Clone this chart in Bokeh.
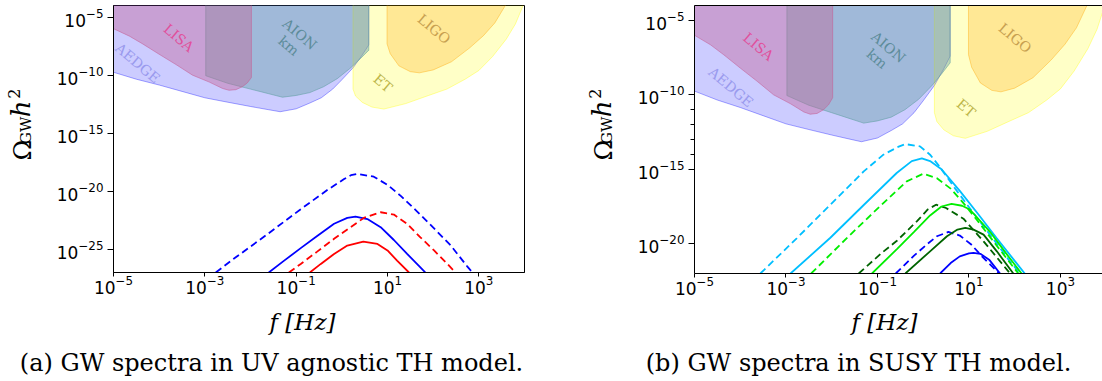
import math
from bokeh.plotting import figure
from bokeh.layouts import row, column
from bokeh.models import FixedTicker, LinearAxis, Range1d
from bokeh.core.properties import value
from bokeh.embed import file_html
from bokeh.resources import INLINE

# ---------------- data: log10(f / Hz) and log10(Omega_GW h^2) ----------------
# sensitivity regions (lower boundary curves; regions are filled up to the top)
LISA_LOGF = [-5.0, -4.65, -4.36, -4.0, -3.63, -3.27, -2.9, -2.61, -2.47, -2.32, -2.18, -2.07, -1.98]
LISA_LOGO = [-6.0, -6.64, -7.31, -8.2, -9.09, -10.0, -10.6, -11.15, -11.3, -11.25, -11.0, -10.67, -10.2]

AEDGE_LOGF = [-5.0, -4.5, -4.0, -3.5, -3.0, -2.5, -2.0, -1.6, -1.35, -1.0, -0.7, -0.45, -0.2, 0.0, 0.25, 0.45, 0.59]
AEDGE_LOGO = [-9.75, -10.35, -10.85, -11.4, -11.95, -12.33, -12.7, -12.98, -13.15, -12.9, -12.4, -11.95, -11.2, -10.4, -9.35, -8.25, -7.4]

AION_LOGF = [-2.98, -2.5, -2.0, -1.6, -1.3, -1.0, -0.7, -0.4, -0.1, 0.2, 0.4, 0.59]
AION_LOGO = [-10.05, -10.7, -11.2, -11.6, -11.9, -11.75, -11.5, -11.0, -10.3, -9.35, -8.6, -7.85]

ET_LOGF = [0.245, 0.30, 0.45, 0.66, 0.92, 1.4, 1.9, 2.3, 2.7, 3.0, 3.3, 3.6, 3.8, 3.97]
ET_LOGO = [-11.2, -11.8, -12.35, -12.75, -12.92, -12.45, -11.75, -11.2, -10.35, -9.6, -8.4, -6.9, -5.6, -4.0]

LIGO_LOGF = [0.99, 1.06, 1.25, 1.5, 1.7, 2.0, 2.4, 2.8, 3.1, 3.35, 3.58]
LIGO_LOGO = [-7.3, -8.15, -9.2, -9.7, -9.8, -9.55, -8.85, -7.65, -6.6, -5.5, -4.0]

# (a) UV agnostic TH model spectra
A_BLUE_DASH_LOGF = [-2.76, -2.36, -1.63, -0.9, -0.32, 0.05, 0.2, 0.34, 0.70, 1.0, 1.29, 1.65, 2.02, 2.38, 2.75, 2.86]
A_BLUE_DASH_LOGO = [-27.0, -25.8, -23.7, -21.55, -19.9, -18.95, -18.62, -18.5, -18.75, -19.45, -20.4, -21.75, -23.2, -24.65, -26.5, -27.0]
A_BLUE_LOGF = [-1.6, -1.27, -0.9, -0.54, -0.17, 0.12, 0.30, 0.56, 0.85, 1.14, 1.43, 1.72, 1.83]
A_BLUE_LOGO = [-27.0, -26.0, -24.9, -23.85, -22.8, -22.3, -22.18, -22.4, -23.1, -24.2, -25.4, -26.55, -27.0]
A_RED_DASH_LOGF = [-1.16, -0.9, -0.54, -0.17, 0.19, 0.48, 0.85, 1.14, 1.43, 1.72, 2.02, 2.31, 2.49]
A_RED_DASH_LOGO = [-27.0, -26.26, -25.2, -24.1, -23.1, -22.3, -21.81, -22.01, -22.81, -23.97, -25.1, -26.26, -27.0]
A_RED_LOGF = [-0.70, -0.46, -0.17, 0.12, 0.47, 0.78, 1.0, 1.21, 1.47]
A_RED_LOGO = [-27.0, -26.26, -25.4, -24.68, -24.34, -24.54, -25.1, -25.97, -27.0]

# (b) SUSY TH model spectra
B_SKY_DASH_LOGF = [-3.56, -2.76, -2.03, -1.30, -0.87, -0.55, -0.39, -0.07, 0.15, 0.34, 0.7, 1.1, 1.5, 1.9, 2.12]
B_SKY_DASH_LOGO = [-22.0, -19.62, -17.38, -15.14, -14.02, -13.5, -13.31, -13.46, -14.02, -14.75, -16.3, -17.95, -19.55, -21.2, -22.0]
B_SKY_LOGF = [-2.90, -2.03, -1.30, -0.58, -0.25, -0.03, 0.15, 0.4, 0.8, 1.2, 1.6, 2.0, 2.22]
B_SKY_LOGO = [-22.0, -19.6, -17.4, -15.25, -14.45, -14.27, -14.45, -15.0, -16.45, -18.0, -19.6, -21.15, -22.0]
B_LIME_DASH_LOGF = [-2.45, -1.67, -0.94, -0.36, 0.0, 0.30, 0.6, 0.88, 1.2, 1.6, 2.08]
B_LIME_DASH_LOGO = [-22.0, -19.62, -17.47, -15.81, -15.3, -15.6, -16.3, -17.27, -18.5, -20.1, -22.0]
B_DKGREEN_DASH_LOGF = [-1.41, -0.9, -0.575, -0.14, 0.1, 0.28, 0.5, 0.88, 1.32, 1.9]
B_DKGREEN_DASH_LOGO = [-22.0, -20.6, -19.8, -18.5, -17.7, -17.38, -17.6, -18.32, -19.84, -22.0]
B_LIME_LOGF = [-1.12, -0.575, -0.2, 0.15, 0.4, 0.62, 0.85, 1.02, 1.46, 1.8, 2.15]
B_LIME_LOGO = [-22.0, -20.36, -19.2, -18.1, -17.5, -17.33, -17.45, -17.7, -19.2, -20.6, -22.0]
B_BLUE_DASH_LOGF = [-0.6, -0.2, 0.1, 0.3, 0.55, 0.8, 1.05, 1.3, 1.66]
B_BLUE_DASH_LOGO = [-22.0, -20.8, -20.0, -19.5, -19.21, -19.45, -20.05, -20.9, -22.0]
B_DKGREEN_LOGF = [-0.39, 0.15, 0.52, 0.75, 0.92, 1.1, 1.32, 1.61, 1.97]
B_DKGREEN_LOGO = [-22.0, -20.51, -19.5, -19.05, -18.94, -19.05, -19.39, -20.51, -22.0]
B_BLUE_LOGF = [0.37, 0.6, 0.8, 1.0, 1.1, 1.25, 1.45, 1.68]
B_BLUE_LOGO = [-22.0, -21.3, -20.85, -20.65, -20.62, -20.68, -21.1, -22.0]

X_TICKS = [1e-5, 1e-3, 1e-1, 1e1, 1e3]
A_Y_TICKS = [1e-5, 1e-10, 1e-15, 1e-20, 1e-25]
B_Y_TICKS = [1e-5, 1e-10, 1e-15, 1e-20]
B_Y_MINOR = [1e-11, 1e-12, 1e-13, 1e-14]

# label positions (log10 f, log10 Omega) per panel
A_LABELS = [("LISA", -3.57, -6.78), ("AEDGE", -4.47, -8.96), ("AION", -0.92, -6.46),
            ("km", -1.16, -7.47), ("LIGO", 2.02, -6.03), ("ET", 0.90, -10.68)]
B_LABELS = [("LISA", -3.60, -6.75), ("AEDGE", -4.2, -9.48), ("AION", -0.76, -6.8),
            ("km", -1.01, -7.58), ("LIGO", 2.01, -6.19), ("ET", 0.94, -10.89)]

CAPTION_A = "(a) GW spectra in UV agnostic TH model."
CAPTION_B = "(b) GW spectra in SUSY TH model."

# ---------------- styling ----------------
SERIF = "DejaVu Serif"
SANS = "DejaVu Sans"
LABEL_COLORS = {"LISA": "#e0509c", "AEDGE": "#9a9aee", "AION": "#5d8c9a", "km": "#5d8c9a",
                "LIGO": "#c8a050", "ET": "#bdb64a"}
REGIONS = [
    (AEDGE_LOGF, AEDGE_LOGO, "#0000ff", 0.2),
    (ET_LOGF, ET_LOGO, "#ffff00", 0.22),
    (LIGO_LOGF, LIGO_LOGO, "#ffa500", 0.25),
    (AION_LOGF, AION_LOGO, "#5f9ea0", 0.4),
    (LISA_LOGF, LISA_LOGO, "#c45e93", 0.4),
]

ROW_H = 310      # height of the panel row
BOTTOM_H = 66    # height of the strip holding x labels and captions
TOTAL_H = ROW_H + BOTTOM_H


def pw(a):
    return [10.0 ** v for v in a]


def make_panel(left_border, frame_w, right_border, top_border, frame_h,
               x_end, y_start, yticks, yminor, outline):
    p = figure(x_axis_type="log", y_axis_type="log",
               x_range=Range1d(1e-5, x_end), y_range=Range1d(y_start, 1e-4),
               frame_width=frame_w, frame_height=frame_h,
               min_border_left=left_border, min_border_right=right_border,
               min_border_top=top_border, min_border_bottom=ROW_H - top_border - frame_h,
               toolbar_location=None, output_backend="svg")
    p.grid.visible = False
    p.background_fill_color = "white"
    p.border_fill_color = "white"
    p.outline_line_color = "black" if outline else None
    p.outline_line_width = 1

    p.xaxis.ticker = FixedTicker(ticks=X_TICKS)
    p.yaxis.ticker = FixedTicker(ticks=yticks, minor_ticks=yminor)
    for ax in (p.xaxis, p.yaxis):
        ax.axis_line_color = "black"
        ax.axis_line_width = 1
        ax.major_tick_line_color = "black"
        ax.major_tick_in = 0
        ax.major_label_text_font = SANS
        ax.major_label_text_font_size = "17px"
        ax.major_label_text_color = "black"
    p.xaxis.major_tick_out = 4
    p.xaxis.minor_tick_out = 0
    p.yaxis.major_tick_out = 6
    p.xaxis.major_label_standoff = -2
    p.yaxis.major_label_standoff = 4
    p.xaxis.minor_tick_line_color = None
    if yminor:
        p.yaxis.minor_tick_line_color = "black"
        p.yaxis.minor_tick_in = 0
        p.yaxis.minor_tick_out = 4
    else:
        p.yaxis.minor_tick_line_color = None

    top_lo = -3.5
    for lf, lo, col, a in REGIONS:
        xs = [lf[0]] + list(lf) + [lf[-1]]
        ys = [top_lo] + list(lo) + [top_lo]
        p.patch(pw(xs), pw(ys), fill_color=col, fill_alpha=a,
                line_color=col, line_alpha=min(1.0, a + 0.15), line_width=1)
    return p


def add_labels(p, labels):
    for txt, lf, lo in labels:
        p.text(x=[10.0 ** lf], y=[10.0 ** lo], text=[txt], angle=-0.70,
               text_align="center", text_baseline="middle",
               text_font=value(SERIF), text_font_size="14px",
               text_color=LABEL_COLORS[txt])


def add_line(p, lf, lo, color, dashed):
    p.line(pw(lf), pw(lo), line_color=color, line_width=1.8,
           line_dash="7 4" if dashed else "solid")


# ---------------- panel (a) ----------------
pa = make_panel(73, 411, 36, 5, 267, 1e4, 1e-27, A_Y_TICKS, [], True)
add_labels(pa, A_LABELS)
add_line(pa, A_BLUE_DASH_LOGF, A_BLUE_DASH_LOGO, "#0000ff", True)
add_line(pa, A_BLUE_LOGF, A_BLUE_LOGO, "#0000ff", False)
add_line(pa, A_RED_DASH_LOGF, A_RED_DASH_LOGO, "#ff0000", True)
add_line(pa, A_RED_LOGF, A_RED_LOGO, "#ff0000", False)

# ---------------- panel (b) ----------------
pb = make_panel(74, 408, 0, 4, 268, 10 ** 3.92, 1e-22, B_Y_TICKS, B_Y_MINOR, False)
top_axis = LinearAxis(ticker=FixedTicker(ticks=[]), axis_line_color="black",
                      major_tick_out=0, major_tick_in=0, minor_tick_out=0, minor_tick_in=0,
                      major_label_standoff=0, major_label_text_font_size="0px")
pb.add_layout(top_axis, "above")
add_labels(pb, B_LABELS)
add_line(pb, B_SKY_DASH_LOGF, B_SKY_DASH_LOGO, "#00bfff", True)
add_line(pb, B_SKY_LOGF, B_SKY_LOGO, "#00bfff", False)
add_line(pb, B_LIME_DASH_LOGF, B_LIME_DASH_LOGO, "#00ee00", True)
add_line(pb, B_DKGREEN_DASH_LOGF, B_DKGREEN_DASH_LOGO, "#006400", True)
add_line(pb, B_LIME_LOGF, B_LIME_LOGO, "#00ee00", False)
add_line(pb, B_BLUE_DASH_LOGF, B_BLUE_DASH_LOGO, "#0000ff", True)
add_line(pb, B_DKGREEN_LOGF, B_DKGREEN_LOGO, "#006400", False)
add_line(pb, B_BLUE_LOGF, B_BLUE_LOGO, "#0000ff", False)


# ---------------- y-axis label strips (page pixel coordinates, centred pieces) ----------------
def ylabel_fig(x0, w, dx):
    f = figure(width=w, height=ROW_H, x_range=Range1d(x0, x0 + w), y_range=Range1d(0, ROW_H),
               x_axis_location=None, y_axis_location=None, toolbar_location=None,
               output_backend="svg", min_border=0)
    f.outline_line_color = None
    f.grid.visible = False
    up = math.pi / 2
    pieces = [("\u03a9", 22.0, 168, "25px", "normal"),
              ("GW", 25.0, 145, "15px", "normal"),
              ("h", 20.5, 120, "26px", "italic"),
              ("2", 13.0, 102.5, "16px", "normal")]
    for txt, x, y, size, style in pieces:
        f.text(x=[x + dx], y=[ROW_H - y], text=[txt], angle=up, text_align="center",
               text_baseline="middle", text_font=value(SERIF),
               text_font_size=size, text_font_style=style, text_color="black")
    return f


la = ylabel_fig(0, 40, 0)
lb = ylabel_fig(560, 60, 581)

# ---------------- bottom strip: x labels and captions ----------------
bottom = figure(width=1102, height=BOTTOM_H, x_range=Range1d(0, 1102),
                y_range=Range1d(0, BOTTOM_H),
                x_axis_location=None, y_axis_location=None, toolbar_location=None,
                output_backend="svg", min_border=0)
bottom.outline_line_color = None
bottom.grid.visible = False
bottom.text(x=[302, 884], y=[TOTAL_H - 321] * 2, text=["f [Hz]", "f [Hz]"], text_align="center",
            text_baseline="middle", text_font=value(SERIF), text_font_size="23px",
            text_font_style="italic", text_color="black")
bottom.text(x=[271, 858], y=[TOTAL_H - 362] * 2, text=[CAPTION_A, CAPTION_B], text_align="center",
            text_baseline="middle", text_font=value(SERIF), text_font_size="24px",
            text_color="black")

layout = column(row(la, pa, lb, pb), bottom)
open("out.html", "w").write(file_html(layout, INLINE))
